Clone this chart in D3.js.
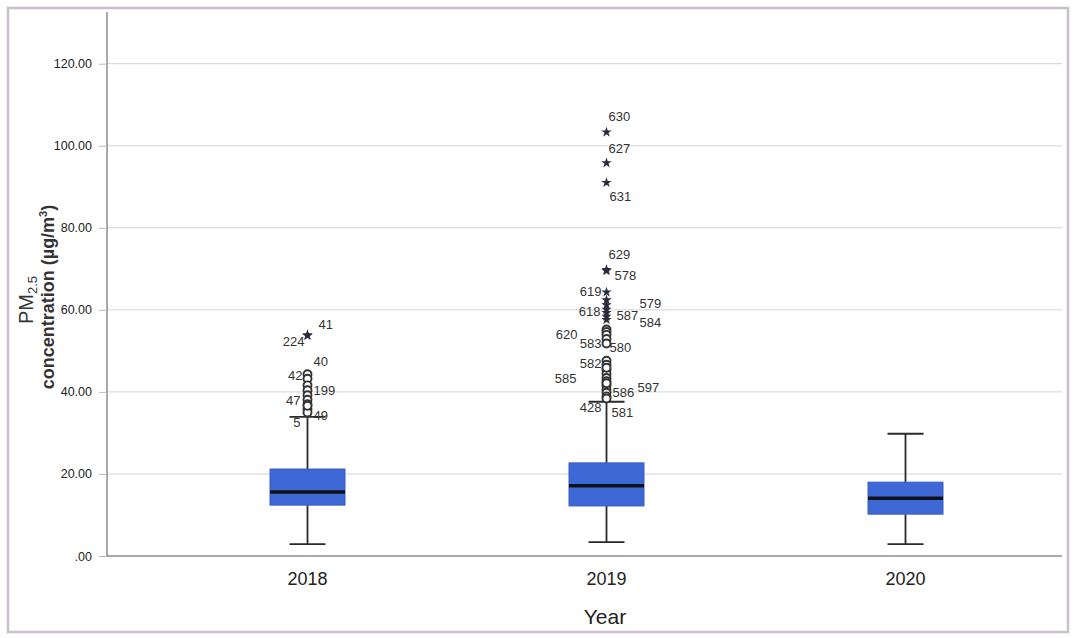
<!DOCTYPE html>
<html>
<head>
<meta charset="utf-8">
<script src="https://cdn.jsdelivr.net/npm/d3@7"></script>
<style>
  html, body { margin: 0; padding: 0; background: #fff; }
  svg { display: block; font-family: "Liberation Sans", Arial, sans-serif; }
</style>
</head>
<body>
<svg id="chart" width="1076" height="638"></svg>
<script>
// PM2.5 concentration by year: box summaries
const years = ["2018", "2019", "2020"];
const lowerWhisker = [2.9, 3.4, 2.9];
const q1 = [12.4, 12.2, 10.2];
const median = [15.6, 17.1, 14.1];
const q3 = [21.2, 22.7, 18.0];
const upperWhisker = [33.9, 37.6, 29.8];

// Outliers (circles) and extreme values (stars), labelled by case number
const outlierYear = ["2018", "2018", "2018", "2018", "2018", "2018", "2018", "2018", "2018", "2018",
  "2019", "2019", "2019", "2019", "2019", "2019", "2019", "2019", "2019", "2019", "2019", "2019",
  "2019", "2019", "2019", "2019", "2019", "2019"];
const outlierCase = ["40", "42", "", "199", "", "47", "", "49", "5", "",
  "620", "", "583", "580", "", "582", "", "585", "", "", "597", "586", "", "428", "581", "", "", ""];
const outlierValue = [44.3, 43.2, 41.6, 40.4, 39.2, 38.1, 37.0, 35.8, 35.0, 36.6,
  55.2, 54.6, 53.9, 52.9, 47.6, 46.6, 45.4, 44.4, 43.4, 42.6, 41.6, 40.6, 39.8, 38.9, 38.4, 51.8, 45.9, 42.1];

const extremeYear = ["2018", "2018", "2019", "2019", "2019", "2019", "2019", "2019", "2019", "2019", "2019", "2019", "2019", "2019"];
const extremeCase = ["41", "224", "630", "627", "631", "629", "578", "619", "579", "", "618", "587", "", "584"];
const extremeValue = [53.9, 53.7, 103.3, 95.8, 91.0, 69.8, 69.5, 64.3, 62.4, 61.2, 60.1, 59.3, 58.4, 57.6];

const yTicks = [0, 20, 40, 60, 80, 100, 120];

// where each case label sits relative to its mark: [dx, dy, anchor]
const labelPlacement = {
  "41": [11, -9, "start"], "224": [-3, 7, "end"], "40": [6, -12, "start"], "42": [-5, -2, "end"],
  "199": [6, 1, "start"], "47": [-7, 2, "end"], "49": [6, 7, "start"], "5": [-7, 11, "end"],
  "630": [2, -15, "start"], "627": [2, -13, "start"], "631": [3, 15, "start"],
  "629": [2, -14, "start"], "578": [8, 6, "start"], "619": [-5, 0, "end"],
  "579": [33, 5, "start"], "618": [-6, 3, "end"], "587": [10, 4, "start"], "584": [33, 4, "start"],
  "620": [-29, 6, "end"], "583": [-5, 10, "end"], "580": [3, 10, "start"],
  "582": [-5, 0, "end"], "585": [-30, 6, "end"], "597": [31, 3, "start"], "586": [6, 4, "start"],
  "428": [-5, 12, "end"], "581": [5, 15, "start"]
};

const svg = d3.select("#chart");
const plot = { left: 107, right: 1062, top: 12, bottom: 556 };

// outer frame
svg.append("rect")
  .attr("x", 8).attr("y", 8).attr("width", 1060).attr("height", 624)
  .attr("fill", "#fff").attr("stroke", "#c9c0cc").attr("stroke-width", 2.5);

const x = d3.scaleBand().domain(years).range([158, 1055]);
const y = d3.scaleLinear().domain([0, 132.6]).range([plot.bottom, plot.top]);
const cx = d => x(d) + x.bandwidth() / 2;

// gridlines
svg.append("g").selectAll("line")
  .data(yTicks.filter(t => t > 0)).join("line")
  .attr("x1", plot.left).attr("x2", plot.right)
  .attr("y1", d => y(d)).attr("y2", d => y(d))
  .attr("stroke", "#d4d4d8").attr("stroke-width", 1);

// y axis
const yAxis = d3.axisLeft(y).tickValues(yTicks)
  .tickFormat(d => d === 0 ? ".00" : d3.format(".2f")(d))
  .tickSize(8).tickPadding(7);
const gy = svg.append("g").attr("transform", `translate(${plot.left},0)`).call(yAxis);
gy.select(".domain").attr("stroke", "#555").attr("d", `M0,${plot.bottom}V${plot.top}`);
gy.selectAll(".tick line").attr("stroke", "#bbb");
gy.selectAll(".tick text").attr("fill", "#222").attr("font-size", 12.5)
  .attr("font-family", "'Liberation Sans', Arial, sans-serif");

// x axis
const xAxis = d3.axisBottom(x).tickSize(0).tickPadding(16);
const gx = svg.append("g").attr("transform", `translate(0,${plot.bottom})`).call(xAxis);
gx.select(".domain").attr("stroke", "#555").attr("d", `M${plot.left},0H${plot.right}`);
gx.selectAll(".tick text").attr("fill", "#222").attr("font-size", 18)
  .attr("font-family", "'Liberation Sans', Arial, sans-serif");

// axis titles
svg.append("text").attr("x", 605).attr("y", 624).attr("text-anchor", "middle")
  .attr("font-size", 21).attr("fill", "#222").text("Year");

const yTitle = svg.append("g");
const t1 = yTitle.append("text")
  .attr("transform", "translate(33,300) rotate(-90)")
  .attr("text-anchor", "middle").attr("font-size", 20).attr("fill", "#333");
t1.append("tspan").text("PM");
t1.append("tspan").attr("font-size", 13).attr("dy", 4).text("2.5");
const t2 = yTitle.append("text")
  .attr("transform", "translate(54,297) rotate(-90)")
  .attr("text-anchor", "middle").attr("font-size", 18).attr("font-weight", "bold").attr("fill", "#333");
t2.append("tspan").text("concentration (µg/m");
t2.append("tspan").attr("font-size", 11).attr("dy", -7).text("3");
t2.append("tspan").attr("dy", 7).text(")");

// boxes
const boxW = 75, capW = 36;
const boxes = years.map((yr, i) => ({ yr, lo: lowerWhisker[i], q1: q1[i], med: median[i], q3: q3[i], hi: upperWhisker[i] }));
const gb = svg.append("g");
boxes.forEach(b => {
  const c = cx(b.yr);
  gb.append("line").attr("x1", c).attr("x2", c).attr("y1", y(b.hi)).attr("y2", y(b.lo))
    .attr("stroke", "#2a2a2a").attr("stroke-width", 1.8);
  [b.lo, b.hi].forEach(v => gb.append("line")
    .attr("x1", c - capW / 2).attr("x2", c + capW / 2).attr("y1", y(v)).attr("y2", y(v))
    .attr("stroke", "#2a2a2a").attr("stroke-width", 1.8));
  gb.append("rect").attr("x", c - boxW / 2).attr("width", boxW)
    .attr("y", y(b.q3)).attr("height", y(b.q1) - y(b.q3))
    .attr("fill", "#3d68d6").attr("stroke", "#3a5cc0").attr("stroke-width", 1);
  gb.append("line").attr("x1", c - boxW / 2).attr("x2", c + boxW / 2)
    .attr("y1", y(b.med)).attr("y2", y(b.med))
    .attr("stroke", "#101418").attr("stroke-width", 3.5);
});

// outlier circles
const outliers = outlierValue.map((v, i) => ({ yr: outlierYear[i], id: outlierCase[i], v }));
svg.append("g").selectAll("circle").data(outliers).join("circle")
  .attr("cx", d => cx(d.yr)).attr("cy", d => y(d.v)).attr("r", 4)
  .attr("fill", "#fff").attr("stroke", "#333").attr("stroke-width", 1.9);

// extreme stars
const extremes = extremeValue.map((v, i) => ({ yr: extremeYear[i], id: extremeCase[i], v }));
const star = d3.symbol().type(d3.symbolStar).size(34);
svg.append("g").selectAll("path").data(extremes).join("path")
  .attr("transform", d => `translate(${cx(d.yr)},${y(d.v)})`)
  .attr("d", star).attr("fill", "#2a2a3a");

// case labels
const labelled = outliers.concat(extremes).filter(d => d.id !== "");
svg.append("g").selectAll("text").data(labelled).join("text")
  .attr("x", d => cx(d.yr) + labelPlacement[d.id][0])
  .attr("y", d => y(d.v) + labelPlacement[d.id][1])
  .attr("text-anchor", d => labelPlacement[d.id][2])
  .attr("dominant-baseline", "middle")
  .attr("font-size", 13).attr("fill", "#333")
  .text(d => d.id);
</script>
</body>
</html>
